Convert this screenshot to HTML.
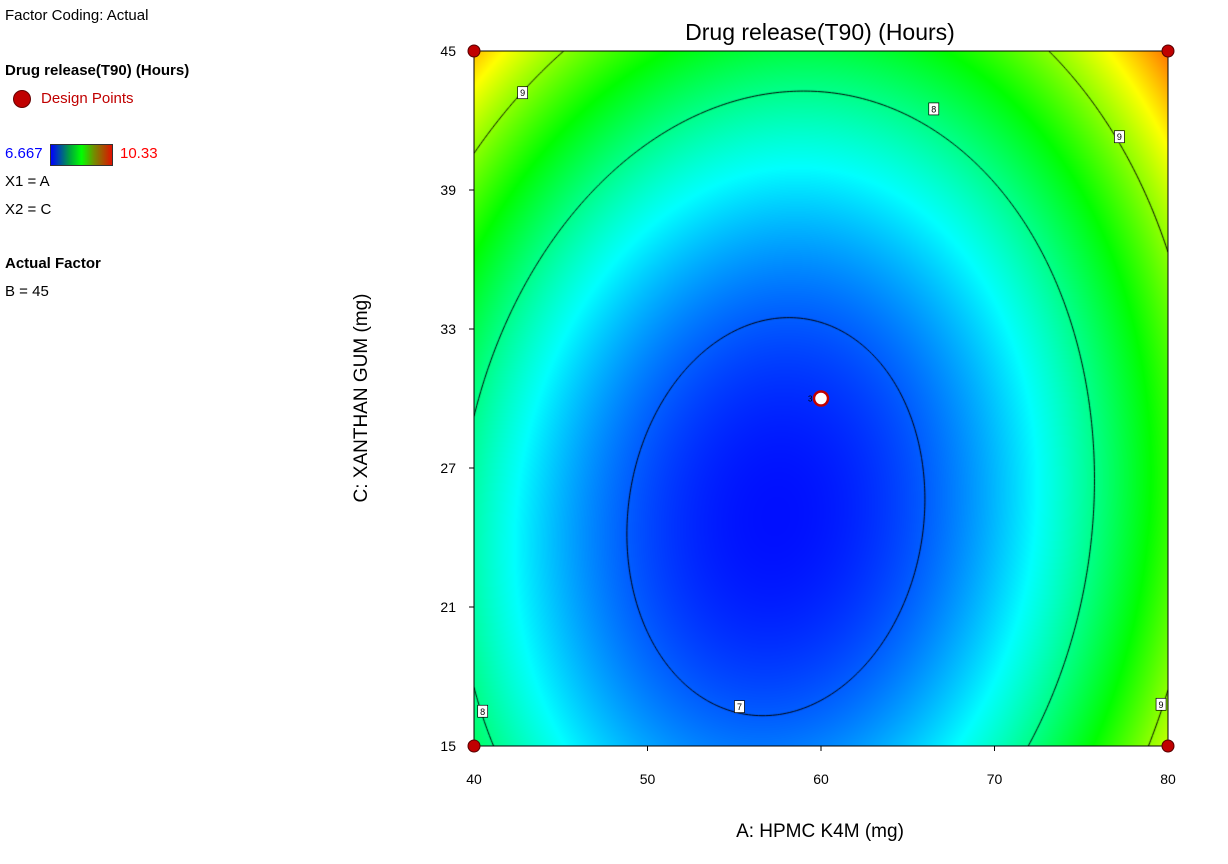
<!DOCTYPE html>
<html><head><meta charset="utf-8"><style>
body{margin:0;width:1228px;height:864px;background:#fff;font-family:"Liberation Sans",sans-serif;position:relative;overflow:hidden}
.t{position:absolute;font-size:15px;color:#000;white-space:nowrap}
</style></head><body>
<div class="t" style="left:5px;top:7px">Factor Coding: Actual</div>
<div class="t" style="left:5px;top:62px;font-weight:bold">Drug release(T90) (Hours)</div>
<div style="position:absolute;left:13px;top:90px;width:16px;height:16px;border-radius:50%;background:#c00000;border:1px solid #600"></div>
<div class="t" style="left:41px;top:90px;color:#c00000">Design Points</div>
<div class="t" style="left:5px;top:145px;color:#0000ff">6.667</div>
<div style="position:absolute;left:50px;top:144px;width:61px;height:20px;border:1px solid #333;background:linear-gradient(90deg,#0000ff,#00a040 30%,#00ff00 50%,#709000 70%,#e01000)"></div>
<div class="t" style="left:120px;top:145px;color:#ff0000">10.33</div>
<div class="t" style="left:5px;top:173px">X1 = A</div>
<div class="t" style="left:5px;top:201px">X2 = C</div>
<div class="t" style="left:5px;top:255px;font-weight:bold">Actual Factor</div>
<div class="t" style="left:5px;top:283px">B = 45</div>
<canvas id="cv" width="694" height="695" style="position:absolute;left:474px;top:51px"></canvas>
<svg id="sv" width="1228" height="864" style="position:absolute;left:0;top:0"></svg>
<script>
// quadratic model in coded units around its minimum: [fmin, a0, c0, kAC, kA2, kC2]
const termNames=["fmin","a0","c0","ac","a2","c2"];
const coefs=[6.72,-0.13,-0.34,-0.2,1.53,0.86];
const xTicks=[40,50,60,70,80];
const yTicks=[15,21,27,33,39,45];
const contourLevels=[7,8,9];
const designA=[40,80,40,80,60];
const designC=[45,45,15,15,30];
const designReps=[1,1,1,1,3];
const labelLevels=[7,8,8,9,9,9];
const labelA=[55.3,66.5,40.5,42.8,77.2,79.6];
const labelC=[16.7,42.5,16.5,43.2,41.3,16.8];
const vmin=6.667,vmax=10.33;
const L=474,R=1168,T=51,B=746;
const X=v=>L+(v-40)/40*(R-L), Y=v=>B-(v-15)/30*(B-T);
function model(A,C){const da=(A-60)/20-coefs[1],dc=(C-30)/15-coefs[2];
 return coefs[0]+coefs[4]*da*da+coefs[5]*dc*dc+coefs[3]*da*dc;}
function col(v){let t=Math.max(0,Math.min(1,(v-vmin)/(vmax-vmin)));
 const s=[[0,0,255],[0,255,255],[0,255,0],[255,255,0],[255,0,0]];
 let p=t*4,i=Math.min(3,Math.floor(p)),f=p-i;return s[i].map((x,k)=>Math.round(x+(s[i+1][k]-x)*f));}
const cv=document.getElementById('cv'),ctx=cv.getContext('2d');
const W=cv.width,H=cv.height,img=ctx.createImageData(W,H);
for(let j=0;j<H;j++)for(let i=0;i<W;i++){const A=40+i/(W-1)*40,C=45-j/(H-1)*30;const c=col(model(A,C));const o=(j*W+i)*4;img.data[o]=c[0];img.data[o+1]=c[1];img.data[o+2]=c[2];img.data[o+3]=255;}
ctx.putImageData(img,0,0);
ctx.strokeStyle='#000';ctx.lineWidth=1;
const N=200;const g=[];for(let j=0;j<=N;j++){g.push([]);for(let i=0;i<=N;i++)g[j].push(model(40+i/N*40,45-j/N*30));}
const sx=W/N,sy=H/N;
contourLevels.forEach(lv=>{ctx.beginPath();
 for(let j=0;j<N;j++)for(let i=0;i<N;i++){const v=[g[j][i],g[j][i+1],g[j+1][i+1],g[j+1][i]];const p=[[i,j],[i+1,j],[i+1,j+1],[i,j+1]];const pts=[];
  for(let k=0;k<4;k++){const a=v[k],b=v[(k+1)%4];if((a-lv)*(b-lv)<0){const f=(lv-a)/(b-a);const P=p[k],Q=p[(k+1)%4];pts.push([(P[0]+(Q[0]-P[0])*f)*sx,(P[1]+(Q[1]-P[1])*f)*sy]);}}
  for(let k=0;k+1<pts.length;k+=2){ctx.moveTo(pts[k][0],pts[k][1]);ctx.lineTo(pts[k+1][0],pts[k+1][1]);}}
 ctx.stroke();});
const sv=document.getElementById('sv'),NS='http://www.w3.org/2000/svg';
function el(t,a,txt){const e=document.createElementNS(NS,t);for(const k in a)e.setAttribute(k,a[k]);if(txt!==undefined)e.textContent=txt;sv.appendChild(e);return e;}
let e=el('rect',{x:L,y:T,width:R-L,height:B-T,fill:'none',stroke:'#000'});


xTicks.forEach(v=>{let l=el('line',{x1:X(v),x2:X(v),y1:B,y2:B+5,stroke:'#000'});
 
 
 let t=el('text',{x:X(v),y:B+38,'text-anchor':'middle','font-size':14},v);
 
 });
yTicks.forEach(v=>{let l=el('line',{x1:L-5,x2:L,y1:Y(v),y2:Y(v),stroke:'#000'});
 
 
 let t=el('text',{x:L-18,y:Y(v)+5,'text-anchor':'end','font-size':14},v);
 
 });
e=el('text',{x:820,y:40,'text-anchor':'middle','font-size':23},'Drug release(T90) (Hours)');


e=el('text',{x:820,y:837,'text-anchor':'middle','font-size':19},'A: HPMC K4M (mg)');


e=el('text',{x:367,y:398,'text-anchor':'middle','font-size':19,transform:'rotate(-90 367 398)'},'C: XANTHAN GUM (mg)');


labelLevels.forEach((lv,i)=>{const x=X(labelA[i]),y=Y(labelC[i]);
 let r=el('rect',{x:x-5,y:y-6,width:10,height:12,fill:'#fff',stroke:'#000','stroke-width':0.7});
 
 
 let t=el('text',{x:x,y:y+3.5,'text-anchor':'middle','font-size':9},lv);
 
 });
designA.forEach((a,i)=>{const x=X(a),y=Y(designC[i]);const rep=designReps[i]>1;
 let c=el('circle',{cx:x,cy:y,r:rep?7:6,fill:rep?'#fff':'#c00000',stroke:rep?'#c00000':'#500','stroke-width':rep?2.5:1});
 
 
 if(rep){let t=el('text',{x:x-13,y:y+3,'font-size':8},designReps[i]);
  
  }});
</script>
</body></html>
